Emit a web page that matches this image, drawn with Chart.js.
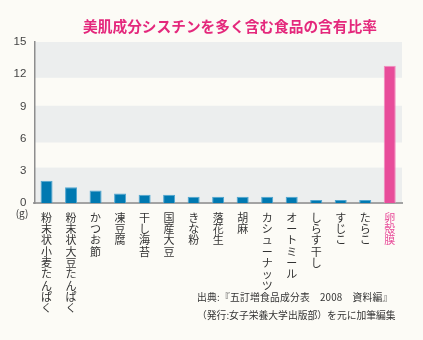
<!DOCTYPE html>
<html lang="ja">
<head>
<meta charset="utf-8">
<script src="https://cdn.jsdelivr.net/npm/chart.js@4/dist/chart.umd.min.js"></script>
<style>
  html, body { margin: 0; padding: 0; background: #FCFBF6; }
  #wrap { position: relative; width: 423px; height: 340px; overflow: hidden; }
  #c { position: absolute; left: 0; top: 0; }
  #title { position: absolute; left: 0; top: 15px; width: 460px; text-align: center;
    font-family: "Noto Sans CJK JP", sans-serif; font-weight: 700; font-size: 14.7px;
    color: #E4287C; line-height: 22px; white-space: nowrap; }
  .src { position: absolute; left: 197px; font-family: "Noto Sans CJK JP", sans-serif;
    font-size: 9.8px; color: #333; line-height: 17.5px; white-space: nowrap; }
</style>
</head>
<body>
<div id="wrap">
  <canvas id="c" width="423" height="340"></canvas>
  <div id="title">美肌成分シスチンを多く含む食品の含有比率</div>
  <div class="src" style="top:289px; letter-spacing:0.2px">出典:『五訂増食品成分表　2008　資料編』</div>
  <div class="src" style="top:306.5px">（発行:女子栄養大学出版部）を元に加筆編集</div>
</div>
<script>
const categories = ["粉末状小麦たんぱく", "粉末状大豆たんぱく", "かつお節", "凍豆腐", "干し海苔", "国産大豆", "きな粉", "落花生", "胡麻", "カシューナッツ", "オートミール", "しらす干し", "すじこ", "たらこ", "卵殻膜"];
const values = [2.1, 1.5, 1.2, 0.9, 0.8, 0.8, 0.6, 0.6, 0.6, 0.6, 0.6, 0.3, 0.3, 0.3, 12.8];
const yTicks = [0, 3, 6, 9, 12, 15];
const unitLabel = "(g)";

const BLUE = "#0079B1", PINK = "#E84C9A";
const highlightIndex = categories.length - 1;

const bandsPlugin = {
  id: "bands",
  beforeDraw(chart) {
    const { ctx, chartArea, scales } = chart;
    const y = scales.y;
    const bands = [[0, 3.32], [5.65, 9.07], [11.67, 15]];
    ctx.save();
    ctx.fillStyle = "#ECEEEE";
    bands.forEach(([a, b]) => {
      const top = y.getPixelForValue(b), bot = y.getPixelForValue(a);
      ctx.fillRect(chartArea.left, top, chartArea.right - chartArea.left, bot - top);
    });
    ctx.restore();
  },
  afterDraw(chart) {
    const { ctx, scales } = chart;
    ctx.save();
    ctx.font = "10px 'Noto Sans CJK JP', sans-serif";
    ctx.fillStyle = "#333";
    ctx.textAlign = "center";
    ctx.textBaseline = "middle";
    ctx.fillText(unitLabel, 22, scales.x.top + 10);
    ctx.restore();
  }
};

new Chart(document.getElementById("c"), {
  type: "bar",
  data: {
    labels: categories,
    datasets: [{
      data: values,
      backgroundColor: values.map((v, i) => i === highlightIndex ? PINK : BLUE),
      borderColor: values.map((v, i) => i === highlightIndex ? "#F28DBF" : "#4FA6D1"),
      borderWidth: 1,
      borderSkipped: "bottom",
      barPercentage: 0.49,
      categoryPercentage: 1.0
    }]
  },
  options: {
    responsive: false,
    animation: false,
    devicePixelRatio: 1,
    layout: { padding: { top: 42, right: 21, left: 0, bottom: 0 } },
    plugins: { legend: { display: false }, tooltip: { enabled: false }, title: { display: false } },
    scales: {
      x: {
        grid: { display: false, drawTicks: false },
        border: { display: true, color: "#A3A3A3", width: 2 },
        afterFit(scale) { scale.height = 136.7; },
        ticks: {
          autoSkip: false,
          maxRotation: 0,
          minRotation: 0,
          padding: 8.5,
          font: { family: "'Noto Sans CJK JP', sans-serif", size: 11, lineHeight: 1.03 },
          color: (ctx) => ctx.index === highlightIndex ? PINK : "#333",
          callback: function (value, index) { return Array.from(categories[index]); }
        }
      },
      y: {
        min: 0, max: 15,
        afterFit(scale) { scale.width = 34.3; },
        afterBuildTicks(scale) { scale.ticks = yTicks.map(v => ({ value: v })); },
        grid: { display: false, drawTicks: false },
        border: { display: true, color: "#8E8E8E", width: 1.5 },
        ticks: {
          padding: 8,
          color: "#444",
          font: { family: "'Liberation Sans', Arial, sans-serif", size: 11.5 }
        }
      }
    }
  },
  plugins: [bandsPlugin]
});
</script>
</body>
</html>
